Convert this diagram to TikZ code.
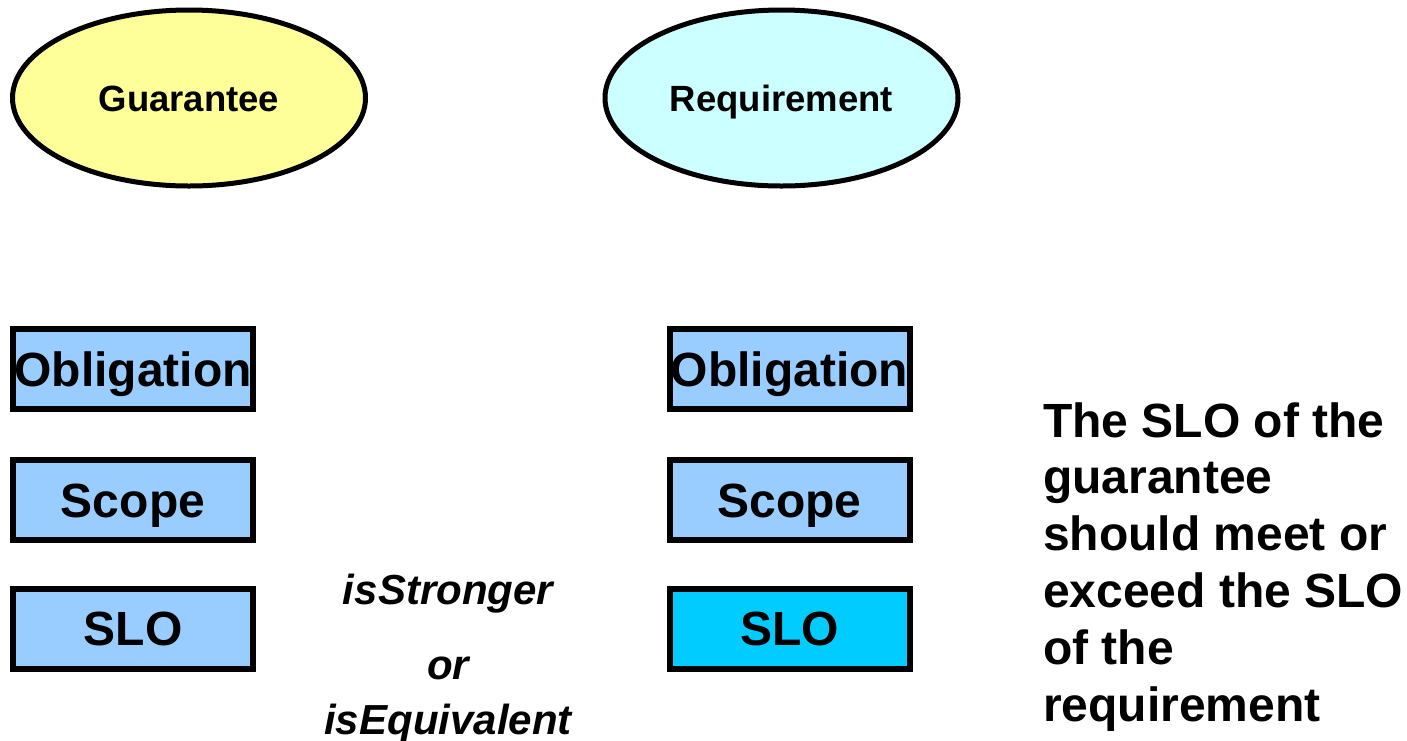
\documentclass[tikz,border=0pt]{standalone}
\usepackage{fontspec}
\setmainfont{Liberation Sans}
\usetikzlibrary{shapes.geometric}
\definecolor{guarfill}{HTML}{FFFF99}
\definecolor{reqfill}{HTML}{CCFFFF}
\definecolor{termfill}{HTML}{99CCFF}
\definecolor{slofill}{HTML}{00CCFF}
\tikzset{
  party/.style={ellipse, draw=black, line width=5pt, inner sep=0pt,
    minimum width=353pt, minimum height=176pt,
    font=\fontsize{36.5}{44}\selectfont\bfseries, text height=26pt, text depth=0pt},
  term/.style={rectangle, draw=black, line width=6pt, fill=termfill, inner sep=0pt,
    minimum width=240pt, minimum height=80pt,
    font=\fontsize{48}{57.6}\selectfont\bfseries, text height=34.4pt, text depth=0pt},
  note/.style={font=\fontsize{48}{56.8}\selectfont\bfseries, align=left, inner sep=0pt},
  relation/.style={font=\fontsize{42}{55}\selectfont\bfseries\itshape, align=center, inner sep=0pt}
}
\begin{document}
\begin{tikzpicture}[x=1pt, y=-1pt]
  \useasboundingbox (0,0) rectangle (1407,740);

  % the two parties
  \node[party, fill=guarfill] (guar) at (189,98) {Guarantee};
  \node[party, fill=reqfill]  (req)  at (781.5,98) {Requirement};

  % terms of the guarantee
  \node[term] (gobl)   at (133,369)   {Obligation};
  \node[term] (gscope) at (133,500)   {Scope};
  \node[term] (gslo)   at (133,628.5) {SLO};

  % terms of the requirement
  \node[term] (robl)   at (789.5,369)   {Obligation};
  \node[term] (rscope) at (789.5,500)   {Scope};
  \node[term, fill=slofill] (rslo) at (789.5,628.5) {SLO};

  % relation between the two SLOs (base = baseline of the last line)
  \node[relation, anchor=base] (rel) at (448,734) {isStronger\\[20pt]or\\isEquivalent};

  % explanation
  \node[note, anchor=base west] (expl) at (1043,721)
    {The SLO of the\\guarantee\\should meet or\\exceed the SLO\\of the\\requirement};
\end{tikzpicture}
\end{document}
